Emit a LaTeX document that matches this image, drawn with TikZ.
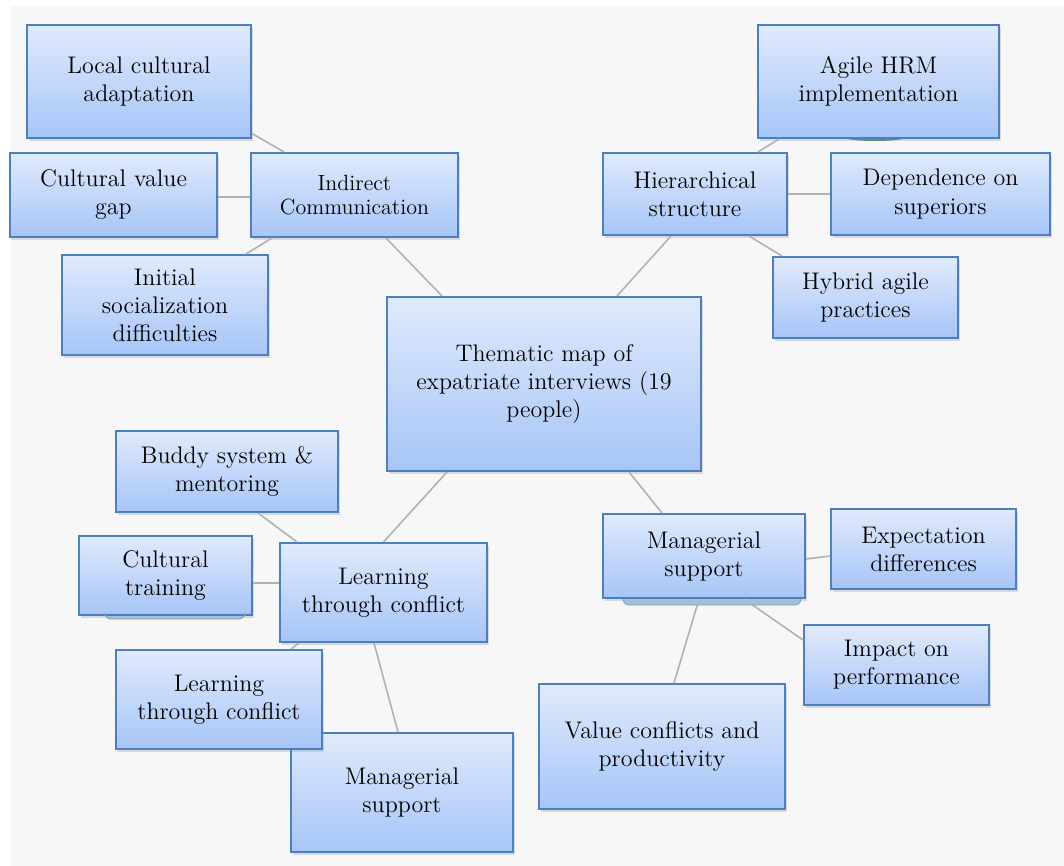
\documentclass[tikz,border=0pt]{standalone}
\usetikzlibrary{shadows}

\definecolor{boxtop}{RGB}{224,234,252}
\definecolor{boxbot}{RGB}{166,197,248}
\definecolor{boxedge}{RGB}{76,127,192}
\definecolor{linkgray}{RGB}{178,178,178}
\definecolor{paper}{RGB}{247,247,247}
\definecolor{tabfill}{RGB}{168,190,212}
\definecolor{tabedge}{RGB}{130,158,186}
\definecolor{leafgreen}{RGB}{92,150,104}

\begin{document}
\begin{tikzpicture}[x=0.5pt,y=-0.5pt,
  topic/.style={draw=boxedge,line width=1pt,top color=boxtop,bottom color=boxbot,
    align=center,inner sep=0pt,font=\fontsize{12}{14}\selectfont,
    drop shadow={opacity=0.25,shadow xshift=1.2pt,shadow yshift=-1.6pt}},
  link/.style={draw=linkgray,line width=0.8pt},
  tab/.style={fill=tabfill,draw=tabedge,line width=0.4pt,rounded corners=3pt}]
\useasboundingbox (0,0) rectangle (1064,866);
\fill[paper] (10,6) rectangle (1064,866);
\fill[leafgreen] (875,137) ellipse[x radius=32,y radius=4];

\node[topic,minimum width=112pt,minimum height=56.5pt] (loc) at (139,81.5) {Local cultural\\adaptation};
\node[topic,minimum width=103.5pt,minimum height=42pt] (gap) at (113.5,195) {Cultural value\\gap};
\node[topic,minimum width=103.5pt,minimum height=42pt,font=\fontsize{11}{12}\selectfont] (indir) at (354.5,195) {Indirect\\Communication};
\node[topic,minimum width=103pt,minimum height=50pt] (social) at (165,305) {Initial\\socialization\\difficulties};
\node[topic,minimum width=157pt,minimum height=87pt] (theme) at (544,384) {Thematic map of\\expatriate interviews (19\\people)};
\node[topic,minimum width=120.5pt,minimum height=56.5pt] (agile) at (878.5,81.5) {Agile HRM\\implementation};
\node[topic,minimum width=92pt,minimum height=41pt] (hier) at (695,194) {Hierarchical\\structure};
\node[topic,minimum width=109.5pt,minimum height=41pt] (depend) at (940.5,194) {Dependence on\\superiors};
\node[topic,minimum width=92.5pt,minimum height=40.5pt] (hybrid) at (865.5,297.5) {Hybrid agile\\practices};
\node[topic,minimum width=111pt,minimum height=40.5pt] (buddy) at (227,471.5) {Buddy system \&\\mentoring};
\node[topic,minimum width=86.5pt,minimum height=39.5pt] (train) at (165.5,575.5) {Cultural\\training};
\node[topic,minimum width=103.5pt,minimum height=49.5pt] (learnM) at (383.5,592.5) {Learning\\through conflict};
\node[topic,minimum width=111pt,minimum height=59.5pt] (mgrL) at (402,792.5) {Managerial\\support};
\node[topic,minimum width=103pt,minimum height=49.5pt] (learnL) at (219,699.5) {Learning\\through conflict};
\node[topic,minimum width=101pt,minimum height=42pt] (mgrM) at (704,556) {Managerial\\support};
\node[topic,minimum width=92.5pt,minimum height=40pt] (expect) at (923.5,549) {Expectation\\differences};
\node[topic,minimum width=92.5pt,minimum height=40pt] (impact) at (896.5,665) {Impact on\\performance};
\node[topic,minimum width=123pt,minimum height=62.5pt] (value) at (662,746.5) {Value conflicts and\\productivity};

\draw[link] ([yshift=-26pt]loc.east) -- ([xshift=17pt]indir.north west);
\draw[link] ([yshift=-1pt]gap.east) -- ([yshift=-1pt]indir.west);
\draw[link] ([xshift=11pt]indir.south west) -- ([xshift=-11.5pt]social.north east);
\draw[link] ([xshift=15.75pt]indir.south) -- ([xshift=28pt]theme.north west);
\draw[link] ([xshift=115.5pt]theme.north west) -- ([xshift=34.5pt]hier.south west);
\draw[link] ([xshift=-15pt]hier.north east) -- ([xshift=11pt]agile.south west);
\draw[link] (hier.east) -- (depend.west);
\draw[link] ([xshift=-19.5pt]hier.south east) -- ([xshift=5pt]hybrid.north west);
\draw[link] ([xshift=30.5pt]theme.south west) -- (learnM.north);
\draw[link] ([xshift=-36.5pt]theme.south east) -- ([xshift=30pt]mgrM.north west);
\draw[link] ([xshift=15.5pt]buddy.south) -- ([xshift=9pt]learnM.north west);
\draw[link] ([yshift=-3.75pt]train.east) -- ([yshift=4.75pt]learnM.west);
\draw[link] ([xshift=10pt]learnM.south west) -- ([xshift=-16pt]learnL.north east);
\draw[link] ([xshift=-4.75pt]learnM.south) -- ([xshift=-2pt]mgrL.north);
\draw[link] ([yshift=-1.5pt]mgrM.east) -- ([yshift=-3.5pt]expect.west);
\draw[link] ([xshift=-31pt]mgrM.south east) -- ([yshift=12.5pt]impact.west);
\draw[link] ([xshift=-2.5pt]mgrM.south) -- ([xshift=6pt]value.north);

\path[tab] (105,616) -- (105,619) -- (245,619) -- (245,616);
\path[tab] (623,599) -- (623,605) -- (801,605) -- (801,599);
\end{tikzpicture}
\end{document}
